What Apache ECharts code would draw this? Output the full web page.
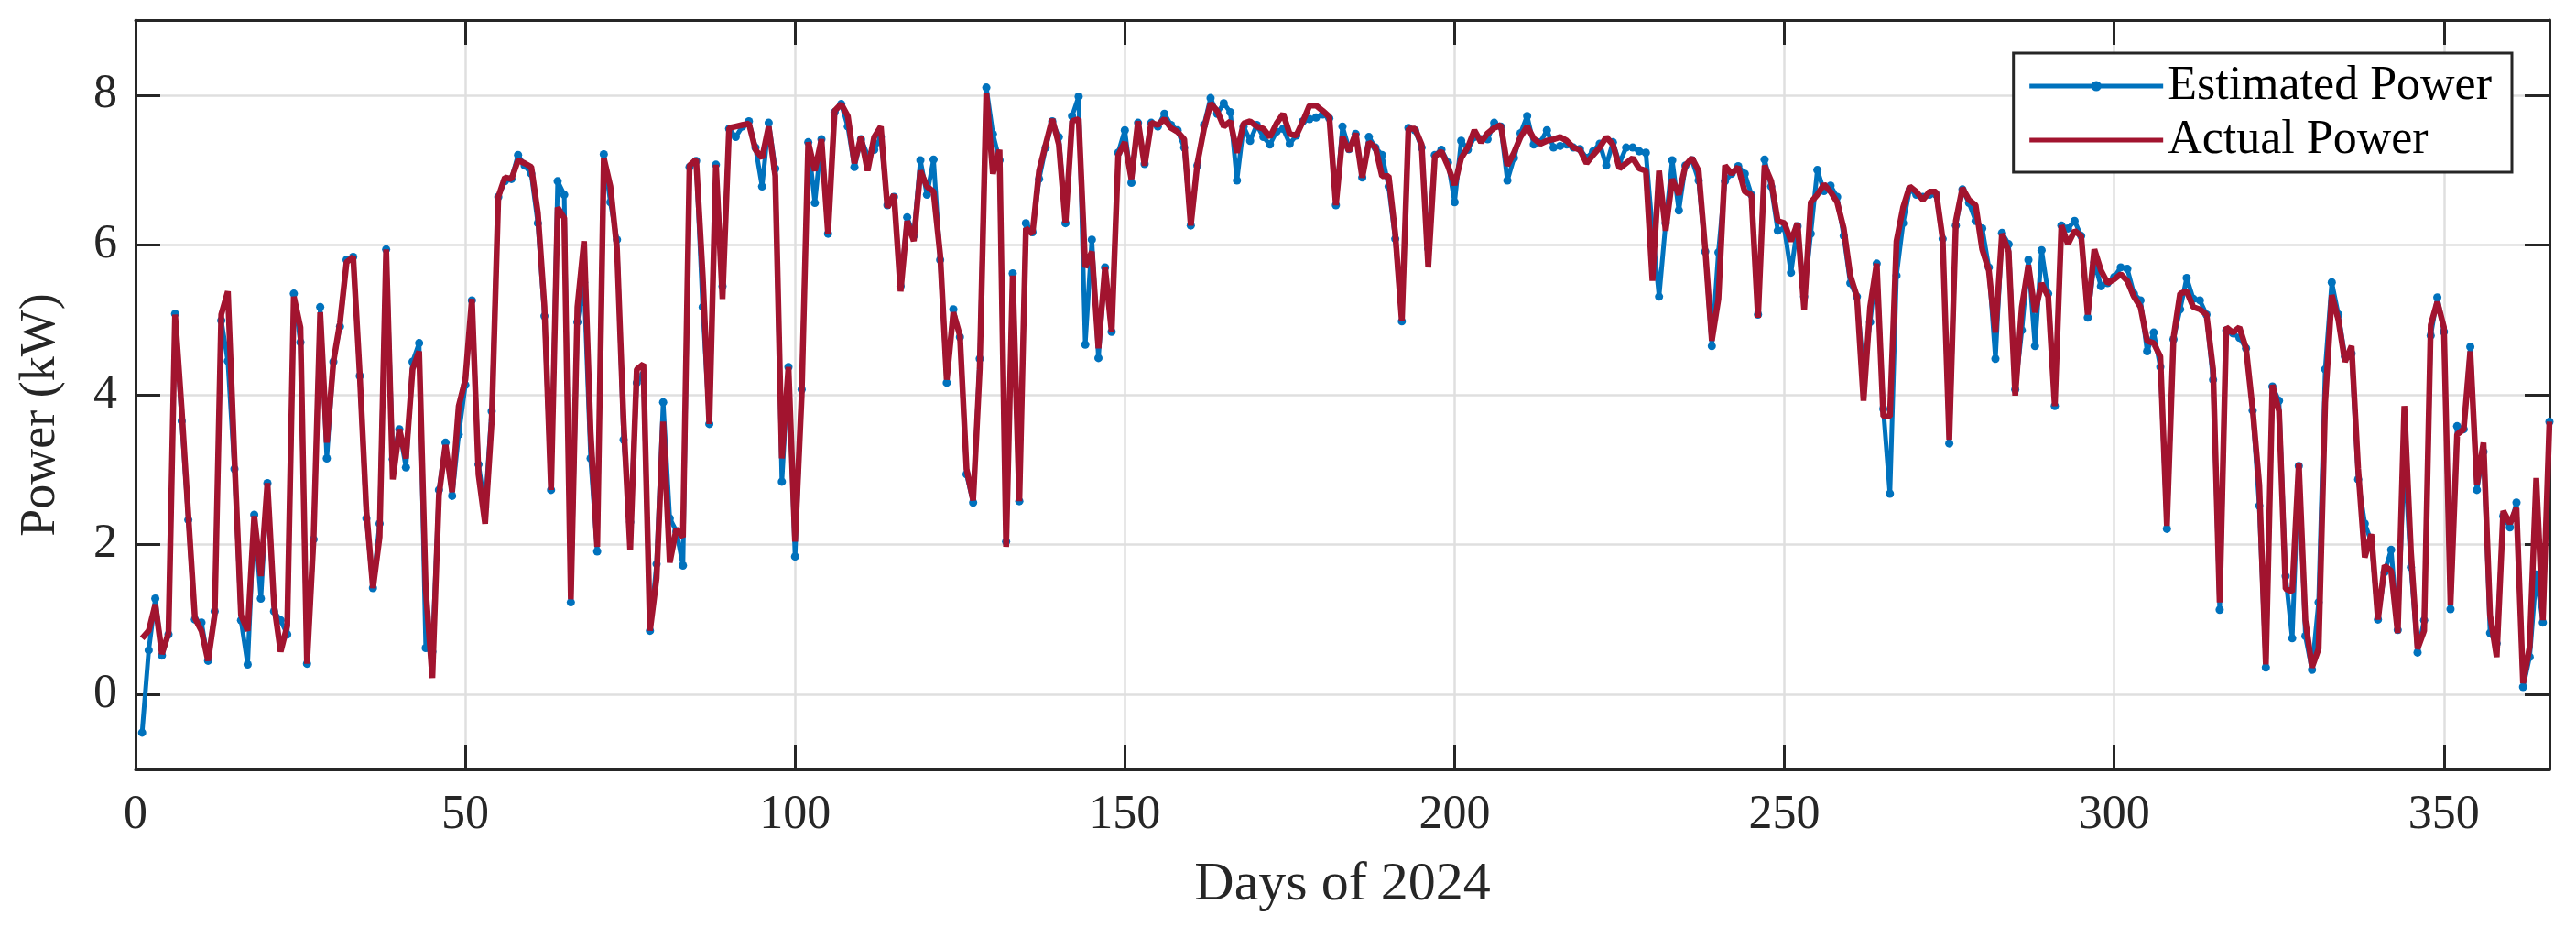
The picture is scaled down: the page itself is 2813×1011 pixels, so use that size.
<!DOCTYPE html>
<html>
<head>
<meta charset="utf-8">
<script src="https://cdn.jsdelivr.net/npm/echarts@6/dist/echarts.min.js"></script>
<style>
html,body{margin:0;padding:0;background:#fff;}
#chart{width:2813px;height:1011px;}
</style>
</head>
<body>
<div id="chart"></div>
<script>
// Days of 2024 (1..366)
const days = Array.from({length: 366}, (_, i) => i + 1);

const actualPower = [
0.75,0.85,1.2,0.54,0.82,5.07,3.8,2.4,1.02,0.85,0.45,1.06,5.07,5.38,3.15,1.06,0.85,2.38,1.58,2.82,
1.2,0.57,0.92,5.31,4.9,0.41,2.1,5.1,3.36,4.44,4.96,5.77,5.84,4.27,2.45,1.42,2.1,5.94,2.87,3.54,
3.15,4.34,4.58,1.41,0.22,2.66,3.33,2.7,3.85,4.2,5.28,2.94,2.28,3.64,6.64,6.9,6.88,7.13,7.09,7.04,
6.43,5.17,2.73,6.5,6.36,1.27,5.17,6.05,3.5,1.97,7.16,6.78,5.94,3.64,1.93,4.34,4.41,0.85,1.55,3.64,
1.76,2.21,2.1,7.06,7.14,5.59,3.61,7.07,5.28,7.56,7.58,7.6,7.62,7.27,7.16,7.58,6.92,3.15,4.37,2.04,
3.99,7.37,6.99,7.41,6.15,7.79,7.88,7.72,7.09,7.44,6.99,7.44,7.58,6.5,6.67,5.38,6.32,6.05,6.99,6.78,
6.71,5.87,4.2,5.1,4.79,3.01,2.59,4.34,8.03,6.95,7.27,1.97,5.59,2.58,6.22,6.15,6.99,7.34,7.68,7.34,
6.29,7.65,7.68,5.7,5.91,4.62,5.7,4.84,7.2,7.37,6.88,7.65,7.06,7.63,7.6,7.68,7.56,7.51,7.41,6.26,
7.09,7.55,7.89,7.79,7.58,7.65,7.23,7.62,7.65,7.58,7.55,7.44,7.62,7.75,7.48,7.46,7.65,7.86,7.86,7.79,
7.71,6.53,7.44,7.25,7.49,6.9,7.37,7.3,6.92,6.92,6.15,4.98,7.55,7.55,7.34,5.7,7.18,7.25,7.05,6.8,
7.16,7.3,7.53,7.37,7.49,7.56,7.6,7.06,7.23,7.44,7.58,7.42,7.35,7.39,7.41,7.44,7.39,7.3,7.27,7.09,
7.2,7.3,7.44,7.34,7.02,7.09,7.16,7.02,6.99,5.52,6.99,6.19,6.88,6.67,7.06,7.16,6.99,5.94,4.72,5.28,
7.06,6.95,7.04,6.71,6.67,5.03,7.06,6.85,6.32,6.29,6.05,6.29,5.14,6.57,6.67,6.81,6.71,6.57,6.22,5.59,
5.31,3.92,5.17,5.75,3.71,3.71,6.05,6.5,6.78,6.71,6.6,6.71,6.71,6.08,3.4,6.32,6.76,6.6,6.53,5.94,
5.66,4.83,6.15,5.91,3.99,5.17,5.73,5.1,5.49,5.31,3.85,6.26,6.01,6.19,6.12,5.07,5.94,5.66,5.49,5.54,
5.61,5.52,5.31,5.17,4.72,4.69,4.51,2.25,4.76,5.35,5.38,5.17,5.14,5.07,4.34,1.23,4.9,4.83,4.9,4.62,
3.81,2.8,0.4,4.13,3.78,1.41,1.37,3.08,0.99,0.36,0.61,3.9,5.33,5.0,4.44,4.65,3.01,1.83,2.14,1.0,
1.72,1.65,0.82,3.85,1.9,0.61,0.85,4.93,5.24,4.9,1.2,3.47,3.54,4.58,2.8,3.36,1.06,0.5,2.45,2.28,
2.49,0.15,0.64,2.89,0.99,3.64
];

const estimatedPower = [
-0.51,0.59,1.28,0.52,0.8,5.08,3.65,2.33,1.0,0.96,0.45,1.11,4.99,4.45,3.01,0.99,0.4,2.4,1.28,2.82,
1.11,0.99,0.8,5.35,4.7,0.41,2.07,5.17,3.15,4.44,4.91,5.8,5.84,4.25,2.35,1.42,2.28,5.94,3.14,3.54,
3.03,4.44,4.69,0.62,0.57,2.73,3.36,2.65,3.47,4.13,5.26,3.07,2.5,3.78,6.64,6.85,6.88,7.2,7.06,6.95,
6.29,5.05,2.73,6.85,6.67,1.23,4.97,5.5,3.15,1.91,7.21,6.57,6.07,3.4,2.3,4.16,4.27,0.85,1.74,3.9,
2.35,2.18,1.72,7.04,7.12,5.17,3.61,7.07,5.45,7.55,7.44,7.58,7.65,7.3,6.78,7.63,7.02,2.84,4.37,1.84,
4.07,7.37,6.56,7.41,6.15,7.77,7.88,7.58,7.04,7.41,7.2,7.27,7.44,6.53,6.64,5.45,6.37,6.12,7.13,6.67,
7.14,5.8,4.16,5.14,4.77,2.94,2.56,4.48,8.1,7.48,7.13,2.04,5.62,2.58,6.29,6.17,6.88,7.3,7.65,7.44,
6.29,7.72,7.98,4.67,6.07,4.49,5.7,4.84,7.23,7.53,6.83,7.63,7.08,7.63,7.58,7.75,7.6,7.53,7.3,6.26,
7.06,7.6,7.96,7.75,7.89,7.77,6.86,7.58,7.39,7.6,7.44,7.34,7.51,7.55,7.35,7.46,7.65,7.68,7.7,7.74,
7.69,6.53,7.58,7.28,7.48,6.9,7.44,7.3,7.2,6.78,6.08,4.98,7.56,7.53,7.3,5.95,7.2,7.27,7.1,6.57,
7.39,7.27,7.44,7.41,7.41,7.63,7.58,6.86,7.16,7.49,7.72,7.34,7.37,7.53,7.3,7.32,7.34,7.3,7.28,7.16,
7.25,7.35,7.06,7.37,7.09,7.3,7.3,7.25,7.23,6.2,5.31,6.29,7.13,6.46,7.06,7.13,6.86,5.91,4.65,5.9,
6.85,6.95,7.05,6.95,6.67,5.07,7.14,6.78,6.19,6.22,5.63,6.25,5.31,6.15,7.0,6.72,6.79,6.64,6.12,5.49,
5.31,4.3,4.97,5.75,3.81,2.68,5.59,6.29,6.74,6.67,6.64,6.67,6.67,6.08,3.35,6.26,6.74,6.56,6.32,6.22,
5.7,4.48,6.16,6.01,4.07,4.86,5.8,4.65,5.93,5.35,3.85,6.26,6.22,6.32,6.12,5.03,5.77,5.45,5.49,5.57,
5.7,5.68,5.35,5.26,4.58,4.83,4.37,2.21,4.74,5.14,5.56,5.28,5.26,5.07,4.2,1.13,4.86,4.82,4.76,4.62,
3.79,2.52,0.36,4.11,3.92,1.58,0.75,3.05,0.78,0.33,1.23,4.34,5.5,5.07,4.51,4.55,2.87,2.28,2.04,1.0,
1.63,1.93,0.86,3.2,1.7,0.56,0.99,4.79,5.3,4.84,1.14,3.58,3.54,4.64,2.73,3.24,0.82,0.68,2.38,2.23,
2.56,0.1,0.5,1.6,0.96,3.64
];

const xTicks = [0, 50, 100, 150, 200, 250, 300, 350];
const yTicks = [0, 2, 4, 6, 8];

const FONT = 'Liberation Serif';
const AX = '#262626';
const BLUE = '#0072BD';
const RED = '#A2142F';

const estData = days.map((d, i) => [d, estimatedPower[i]]);
const actData = days.map((d, i) => [d, actualPower[i]]);

const chart = echarts.init(document.getElementById('chart'), null, {renderer: 'canvas'});

const baseX = {
  type: 'value', min: 0, max: 366,
  axisLine: {show: true, onZero: false, lineStyle: {color: AX, width: 3}},
  axisTick: {show: true, inside: true, length: 27, customValues: xTicks, lineStyle: {color: AX, width: 3}},
};
const baseY = {
  type: 'value', min: -1, max: 9,
  axisLine: {show: true, onZero: false, lineStyle: {color: AX, width: 3}},
  axisTick: {show: true, inside: true, length: 27, customValues: yTicks, lineStyle: {color: AX, width: 3}},
};

chart.setOption({
  animation: false,
  backgroundColor: '#ffffff',
  grid: {left: 148, right: 29, top: 22, bottom: 171, containLabel: false},
  legend: {
    orient: 'vertical',
    right: 70, top: 58,
    backgroundColor: '#ffffff',
    borderColor: AX, borderWidth: 3, borderRadius: 0,
    padding: [10, 22, 9, 15],
    itemWidth: 146, itemHeight: 14, itemGap: 7,
    textStyle: {fontFamily: FONT, fontSize: 52, color: '#000'},
    data: [
      {name: 'Estimated Power', lineStyle: {width: 5, color: BLUE}, itemStyle: {color: BLUE}},
      {name: 'Actual Power', lineStyle: {width: 5, color: RED}, itemStyle: {opacity: 0}}
    ]
  },
  xAxis: [
    Object.assign({}, baseX, {
      position: 'bottom',
      name: 'Days of 2024', nameLocation: 'middle', nameGap: 96,
      nameTextStyle: {fontFamily: FONT, fontSize: 60, color: AX},
      axisLabel: {show: true, customValues: xTicks, margin: 24, fontFamily: FONT, fontSize: 52, color: AX},
      splitLine: {show: true, lineStyle: {color: '#dfdfdf', width: 2.5}}
    }),
    Object.assign({}, baseX, {
      position: 'top',
      axisLabel: {show: false},
      splitLine: {show: false}
    })
  ],
  yAxis: [
    Object.assign({}, baseY, {
      position: 'left',
      name: 'Power (kW)', nameLocation: 'middle', nameGap: 76, nameRotate: 90,
      nameTextStyle: {fontFamily: FONT, fontSize: 54, color: AX, padding: [0, 44, 0, 0]},
      axisLabel: {show: true, customValues: yTicks, margin: 20, fontFamily: FONT, fontSize: 52, color: AX},
      splitLine: {show: true, lineStyle: {color: '#dfdfdf', width: 2.5}}
    }),
    Object.assign({}, baseY, {
      position: 'right',
      axisLabel: {show: false},
      splitLine: {show: false}
    })
  ],
  series: [
    {
      name: 'Estimated Power', type: 'line', xAxisIndex: 0, yAxisIndex: 0,
      data: estData,
      symbol: 'circle', symbolSize: 9, showSymbol: true,
      lineStyle: {color: BLUE, width: 5},
      itemStyle: {color: BLUE},
      z: 2
    },
    {
      name: 'Actual Power', type: 'line', xAxisIndex: 0, yAxisIndex: 0,
      data: actData,
      symbol: 'none',
      lineStyle: {color: RED, width: 6.5},
      itemStyle: {color: RED},
      z: 3
    }
  ]
});
</script>
</body>
</html>
